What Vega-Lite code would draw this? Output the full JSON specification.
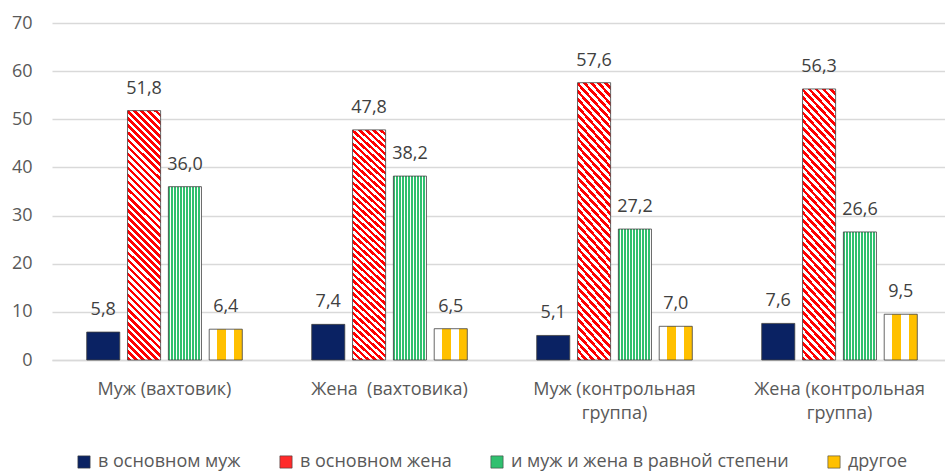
{
  "$schema": "https://vega.github.io/schema/vega-lite/v6.json",
  "autosize": {"type": "none"},
  "padding": {"left": 52, "top": 23, "right": 0, "bottom": 113},
  "width": 893,
  "height": 337,
  "background": "#ffffff",
  "data": {
    "values": [
      {"group": "Муж (вахтовик)", "series": "в основном муж", "value": 5.8},
      {"group": "Муж (вахтовик)", "series": "в основном жена", "value": 51.8},
      {"group": "Муж (вахтовик)", "series": "и муж и жена в равной степени", "value": 36.0},
      {"group": "Муж (вахтовик)", "series": "другое", "value": 6.4},
      {"group": "Жена \u00a0(вахтовика)", "series": "в основном муж", "value": 7.4},
      {"group": "Жена \u00a0(вахтовика)", "series": "в основном жена", "value": 47.8},
      {"group": "Жена \u00a0(вахтовика)", "series": "и муж и жена в равной степени", "value": 38.2},
      {"group": "Жена \u00a0(вахтовика)", "series": "другое", "value": 6.5},
      {"group": "Муж (контрольная|группа)", "series": "в основном муж", "value": 5.1},
      {"group": "Муж (контрольная|группа)", "series": "в основном жена", "value": 57.6},
      {"group": "Муж (контрольная|группа)", "series": "и муж и жена в равной степени", "value": 27.2},
      {"group": "Муж (контрольная|группа)", "series": "другое", "value": 7.0},
      {"group": "Жена (контрольная|группа)", "series": "в основном муж", "value": 7.6},
      {"group": "Жена (контрольная|группа)", "series": "в основном жена", "value": 56.3},
      {"group": "Жена (контрольная|группа)", "series": "и муж и жена в равной степени", "value": 26.6},
      {"group": "Жена (контрольная|группа)", "series": "другое", "value": 9.5}
    ]
  },
  "encoding": {
    "x": {
      "field": "group", "type": "nominal", "sort": null,
      "scale": {"paddingInner": 0, "paddingOuter": 0, "range": [0, 900]},
      "axis": {
        "title": null, "labelAngle": 0, "ticks": false, "tickSize": 0, "domain": true,
        "domainColor": "#d9d9d9", "domainWidth": 1.5,
        "labelPadding": 20, "labelLineHeight": 24,
        "labelExpr": "split(datum.label, '|')"
      }
    },
    "xOffset": {
      "field": "series", "type": "nominal",
      "scale": {
        "domain": ["в основном муж", "в основном жена", "и муж и жена в равной степени", "другое"],
        "paddingInner": 0.19, "paddingOuter": 0.85
      }
    },
    "y": {
      "field": "value", "type": "quantitative",
      "scale": {"domain": [0, 70], "nice": false},
      "axis": {
        "title": null, "values": [0, 10, 20, 30, 40, 50, 60, 70],
        "domain": false, "ticks": false, "tickSize": 0, "labelPadding": 20,
        "grid": true, "gridColor": "#d9d9d9", "gridWidth": 1.3
      }
    }
  },
  "layer": [
    {
      "mark": {"type": "bar", "strokeWidth": 0},
      "encoding": {
        "y": {"datum": 0, "type": "quantitative"},
        "color": {
          "field": "series", "type": "nominal",
          "scale": {
            "domain": ["в основном муж", "в основном жена", "и муж и жена в равной степени", "другое"],
            "range": ["#0a2263", "#ff2a2a", "#30c06f", "#ffc000"]
          },
          "legend": {
            "title": null, "orient": "none", "direction": "horizontal",
            "legendX": 23, "legendY": 430,
            "symbolType": "square", "symbolSize": 150,
            "symbolStrokeColor": "#404040", "symbolStrokeWidth": 0.6,
            "labelFontSize": 18, "labelColor": "#595959", "labelFont": "Open Sans",
            "labelOffset": 5, "columnPadding": 36, "labelLimit": 400
          }
        }
      }
    },
    {
      "transform": [{"filter": "datum.series === 'в основном муж'"}],
      "mark": {"type": "bar", "stroke": "#404040", "strokeWidth": 0.8, "fill": "#0a2263"}
    },
    {
      "transform": [{"filter": "datum.series === 'в основном жена'"}],
      "mark": {"type": "bar", "stroke": "#404040", "strokeWidth": 0.8, "fill": {"gradient": "linear", "x1": 0, "y1": 1, "x2": 0.147, "y2": -0.113, "stops": [
        {"offset": 0, "color": "#ff0000"}, {"offset": 0.0125, "color": "#ff0000"}, {"offset": 0.0125, "color": "#ffffff"}, {"offset": 0.025, "color": "#ffffff"},
        {"offset": 0.025, "color": "#ff0000"}, {"offset": 0.0375, "color": "#ff0000"}, {"offset": 0.0375, "color": "#ffffff"}, {"offset": 0.05, "color": "#ffffff"},
        {"offset": 0.05, "color": "#ff0000"}, {"offset": 0.0625, "color": "#ff0000"}, {"offset": 0.0625, "color": "#ffffff"}, {"offset": 0.075, "color": "#ffffff"},
        {"offset": 0.075, "color": "#ff0000"}, {"offset": 0.0875, "color": "#ff0000"}, {"offset": 0.0875, "color": "#ffffff"}, {"offset": 0.1, "color": "#ffffff"},
        {"offset": 0.1, "color": "#ff0000"}, {"offset": 0.1125, "color": "#ff0000"}, {"offset": 0.1125, "color": "#ffffff"}, {"offset": 0.125, "color": "#ffffff"},
        {"offset": 0.125, "color": "#ff0000"}, {"offset": 0.1375, "color": "#ff0000"}, {"offset": 0.1375, "color": "#ffffff"}, {"offset": 0.15, "color": "#ffffff"},
        {"offset": 0.15, "color": "#ff0000"}, {"offset": 0.1625, "color": "#ff0000"}, {"offset": 0.1625, "color": "#ffffff"}, {"offset": 0.175, "color": "#ffffff"},
        {"offset": 0.175, "color": "#ff0000"}, {"offset": 0.1875, "color": "#ff0000"}, {"offset": 0.1875, "color": "#ffffff"}, {"offset": 0.2, "color": "#ffffff"},
        {"offset": 0.2, "color": "#ff0000"}, {"offset": 0.2125, "color": "#ff0000"}, {"offset": 0.2125, "color": "#ffffff"}, {"offset": 0.225, "color": "#ffffff"},
        {"offset": 0.225, "color": "#ff0000"}, {"offset": 0.2375, "color": "#ff0000"}, {"offset": 0.2375, "color": "#ffffff"}, {"offset": 0.25, "color": "#ffffff"},
        {"offset": 0.25, "color": "#ff0000"}, {"offset": 0.2625, "color": "#ff0000"}, {"offset": 0.2625, "color": "#ffffff"}, {"offset": 0.275, "color": "#ffffff"},
        {"offset": 0.275, "color": "#ff0000"}, {"offset": 0.2875, "color": "#ff0000"}, {"offset": 0.2875, "color": "#ffffff"}, {"offset": 0.3, "color": "#ffffff"},
        {"offset": 0.3, "color": "#ff0000"}, {"offset": 0.3125, "color": "#ff0000"}, {"offset": 0.3125, "color": "#ffffff"}, {"offset": 0.325, "color": "#ffffff"},
        {"offset": 0.325, "color": "#ff0000"}, {"offset": 0.3375, "color": "#ff0000"}, {"offset": 0.3375, "color": "#ffffff"}, {"offset": 0.35, "color": "#ffffff"},
        {"offset": 0.35, "color": "#ff0000"}, {"offset": 0.3625, "color": "#ff0000"}, {"offset": 0.3625, "color": "#ffffff"}, {"offset": 0.375, "color": "#ffffff"},
        {"offset": 0.375, "color": "#ff0000"}, {"offset": 0.3875, "color": "#ff0000"}, {"offset": 0.3875, "color": "#ffffff"}, {"offset": 0.4, "color": "#ffffff"},
        {"offset": 0.4, "color": "#ff0000"}, {"offset": 0.4125, "color": "#ff0000"}, {"offset": 0.4125, "color": "#ffffff"}, {"offset": 0.425, "color": "#ffffff"},
        {"offset": 0.425, "color": "#ff0000"}, {"offset": 0.4375, "color": "#ff0000"}, {"offset": 0.4375, "color": "#ffffff"}, {"offset": 0.45, "color": "#ffffff"},
        {"offset": 0.45, "color": "#ff0000"}, {"offset": 0.4625, "color": "#ff0000"}, {"offset": 0.4625, "color": "#ffffff"}, {"offset": 0.475, "color": "#ffffff"},
        {"offset": 0.475, "color": "#ff0000"}, {"offset": 0.4875, "color": "#ff0000"}, {"offset": 0.4875, "color": "#ffffff"}, {"offset": 0.5, "color": "#ffffff"},
        {"offset": 0.5, "color": "#ff0000"}, {"offset": 0.5125, "color": "#ff0000"}, {"offset": 0.5125, "color": "#ffffff"}, {"offset": 0.525, "color": "#ffffff"},
        {"offset": 0.525, "color": "#ff0000"}, {"offset": 0.5375, "color": "#ff0000"}, {"offset": 0.5375, "color": "#ffffff"}, {"offset": 0.55, "color": "#ffffff"},
        {"offset": 0.55, "color": "#ff0000"}, {"offset": 0.5625, "color": "#ff0000"}, {"offset": 0.5625, "color": "#ffffff"}, {"offset": 0.575, "color": "#ffffff"},
        {"offset": 0.575, "color": "#ff0000"}, {"offset": 0.5875, "color": "#ff0000"}, {"offset": 0.5875, "color": "#ffffff"}, {"offset": 0.6, "color": "#ffffff"},
        {"offset": 0.6, "color": "#ff0000"}, {"offset": 0.6125, "color": "#ff0000"}, {"offset": 0.6125, "color": "#ffffff"}, {"offset": 0.625, "color": "#ffffff"},
        {"offset": 0.625, "color": "#ff0000"}, {"offset": 0.6375, "color": "#ff0000"}, {"offset": 0.6375, "color": "#ffffff"}, {"offset": 0.65, "color": "#ffffff"},
        {"offset": 0.65, "color": "#ff0000"}, {"offset": 0.6625, "color": "#ff0000"}, {"offset": 0.6625, "color": "#ffffff"}, {"offset": 0.675, "color": "#ffffff"},
        {"offset": 0.675, "color": "#ff0000"}, {"offset": 0.6875, "color": "#ff0000"}, {"offset": 0.6875, "color": "#ffffff"}, {"offset": 0.7, "color": "#ffffff"},
        {"offset": 0.7, "color": "#ff0000"}, {"offset": 0.7125, "color": "#ff0000"}, {"offset": 0.7125, "color": "#ffffff"}, {"offset": 0.725, "color": "#ffffff"},
        {"offset": 0.725, "color": "#ff0000"}, {"offset": 0.7375, "color": "#ff0000"}, {"offset": 0.7375, "color": "#ffffff"}, {"offset": 0.75, "color": "#ffffff"},
        {"offset": 0.75, "color": "#ff0000"}, {"offset": 0.7625, "color": "#ff0000"}, {"offset": 0.7625, "color": "#ffffff"}, {"offset": 0.775, "color": "#ffffff"},
        {"offset": 0.775, "color": "#ff0000"}, {"offset": 0.7875, "color": "#ff0000"}, {"offset": 0.7875, "color": "#ffffff"}, {"offset": 0.8, "color": "#ffffff"},
        {"offset": 0.8, "color": "#ff0000"}, {"offset": 0.8125, "color": "#ff0000"}, {"offset": 0.8125, "color": "#ffffff"}, {"offset": 0.825, "color": "#ffffff"},
        {"offset": 0.825, "color": "#ff0000"}, {"offset": 0.8375, "color": "#ff0000"}, {"offset": 0.8375, "color": "#ffffff"}, {"offset": 0.85, "color": "#ffffff"},
        {"offset": 0.85, "color": "#ff0000"}, {"offset": 0.8625, "color": "#ff0000"}, {"offset": 0.8625, "color": "#ffffff"}, {"offset": 0.875, "color": "#ffffff"},
        {"offset": 0.875, "color": "#ff0000"}, {"offset": 0.8875, "color": "#ff0000"}, {"offset": 0.8875, "color": "#ffffff"}, {"offset": 0.9, "color": "#ffffff"},
        {"offset": 0.9, "color": "#ff0000"}, {"offset": 0.9125, "color": "#ff0000"}, {"offset": 0.9125, "color": "#ffffff"}, {"offset": 0.925, "color": "#ffffff"},
        {"offset": 0.925, "color": "#ff0000"}, {"offset": 0.9375, "color": "#ff0000"}, {"offset": 0.9375, "color": "#ffffff"}, {"offset": 0.95, "color": "#ffffff"},
        {"offset": 0.95, "color": "#ff0000"}, {"offset": 0.9625, "color": "#ff0000"}, {"offset": 0.9625, "color": "#ffffff"}, {"offset": 0.975, "color": "#ffffff"},
        {"offset": 0.975, "color": "#ff0000"}, {"offset": 0.9875, "color": "#ff0000"}, {"offset": 0.9875, "color": "#ffffff"}, {"offset": 1, "color": "#ffffff"}
      ]}}
    },
    {
      "transform": [{"filter": "datum.series === 'и муж и жена в равной степени'"}],
      "mark": {"type": "bar", "stroke": "#404040", "strokeWidth": 0.8, "fill": {"gradient": "linear", "x1": 0, "y1": 0, "x2": 1, "y2": 0, "stops": [
        {"offset": 0, "color": "#30c06f"}, {"offset": 0.0591, "color": "#30c06f"}, {"offset": 0.0591, "color": "#ffffff"}, {"offset": 0.0909, "color": "#ffffff"},
        {"offset": 0.0909, "color": "#30c06f"}, {"offset": 0.15, "color": "#30c06f"}, {"offset": 0.15, "color": "#ffffff"}, {"offset": 0.1818, "color": "#ffffff"},
        {"offset": 0.1818, "color": "#30c06f"}, {"offset": 0.2409, "color": "#30c06f"}, {"offset": 0.2409, "color": "#ffffff"}, {"offset": 0.2727, "color": "#ffffff"},
        {"offset": 0.2727, "color": "#30c06f"}, {"offset": 0.3318, "color": "#30c06f"}, {"offset": 0.3318, "color": "#ffffff"}, {"offset": 0.3636, "color": "#ffffff"},
        {"offset": 0.3636, "color": "#30c06f"}, {"offset": 0.4227, "color": "#30c06f"}, {"offset": 0.4227, "color": "#ffffff"}, {"offset": 0.4545, "color": "#ffffff"},
        {"offset": 0.4545, "color": "#30c06f"}, {"offset": 0.5136, "color": "#30c06f"}, {"offset": 0.5136, "color": "#ffffff"}, {"offset": 0.5455, "color": "#ffffff"},
        {"offset": 0.5455, "color": "#30c06f"}, {"offset": 0.6045, "color": "#30c06f"}, {"offset": 0.6045, "color": "#ffffff"}, {"offset": 0.6364, "color": "#ffffff"},
        {"offset": 0.6364, "color": "#30c06f"}, {"offset": 0.6955, "color": "#30c06f"}, {"offset": 0.6955, "color": "#ffffff"}, {"offset": 0.7273, "color": "#ffffff"},
        {"offset": 0.7273, "color": "#30c06f"}, {"offset": 0.7864, "color": "#30c06f"}, {"offset": 0.7864, "color": "#ffffff"}, {"offset": 0.8182, "color": "#ffffff"},
        {"offset": 0.8182, "color": "#30c06f"}, {"offset": 0.8773, "color": "#30c06f"}, {"offset": 0.8773, "color": "#ffffff"}, {"offset": 0.9091, "color": "#ffffff"},
        {"offset": 0.9091, "color": "#30c06f"}, {"offset": 0.9682, "color": "#30c06f"}, {"offset": 0.9682, "color": "#ffffff"}, {"offset": 1, "color": "#ffffff"}
      ]}}
    },
    {
      "transform": [{"filter": "datum.series === 'другое'"}],
      "mark": {"type": "bar", "stroke": "#404040", "strokeWidth": 0.8, "fill": {"gradient": "linear", "x1": 0, "y1": 0, "x2": 1, "y2": 0, "stops": [
        {"offset": 0, "color": "#ffffff"}, {"offset": 0.25, "color": "#ffffff"}, {"offset": 0.25, "color": "#ffc000"}, {"offset": 0.5, "color": "#ffc000"},
        {"offset": 0.5, "color": "#ffffff"}, {"offset": 0.75, "color": "#ffffff"}, {"offset": 0.75, "color": "#ffc000"}, {"offset": 1, "color": "#ffc000"}
      ]}}
    },
    {
      "mark": {"type": "text", "baseline": "alphabetic", "dy": -17, "fontSize": 18, "font": "Open Sans", "color": "#404040"},
      "encoding": {
        "text": {"field": "value", "type": "quantitative", "format": ".1f"}
      }
    }
  ],
  "config": {
    "locale": {"number": {"decimal": ",", "thousands": "\u00a0", "grouping": [3], "currency": ["", ""]}},
    "view": {"stroke": null},
    "axis": {"labelFont": "Open Sans", "labelFontSize": 18, "labelColor": "#595959"}
  }
}
